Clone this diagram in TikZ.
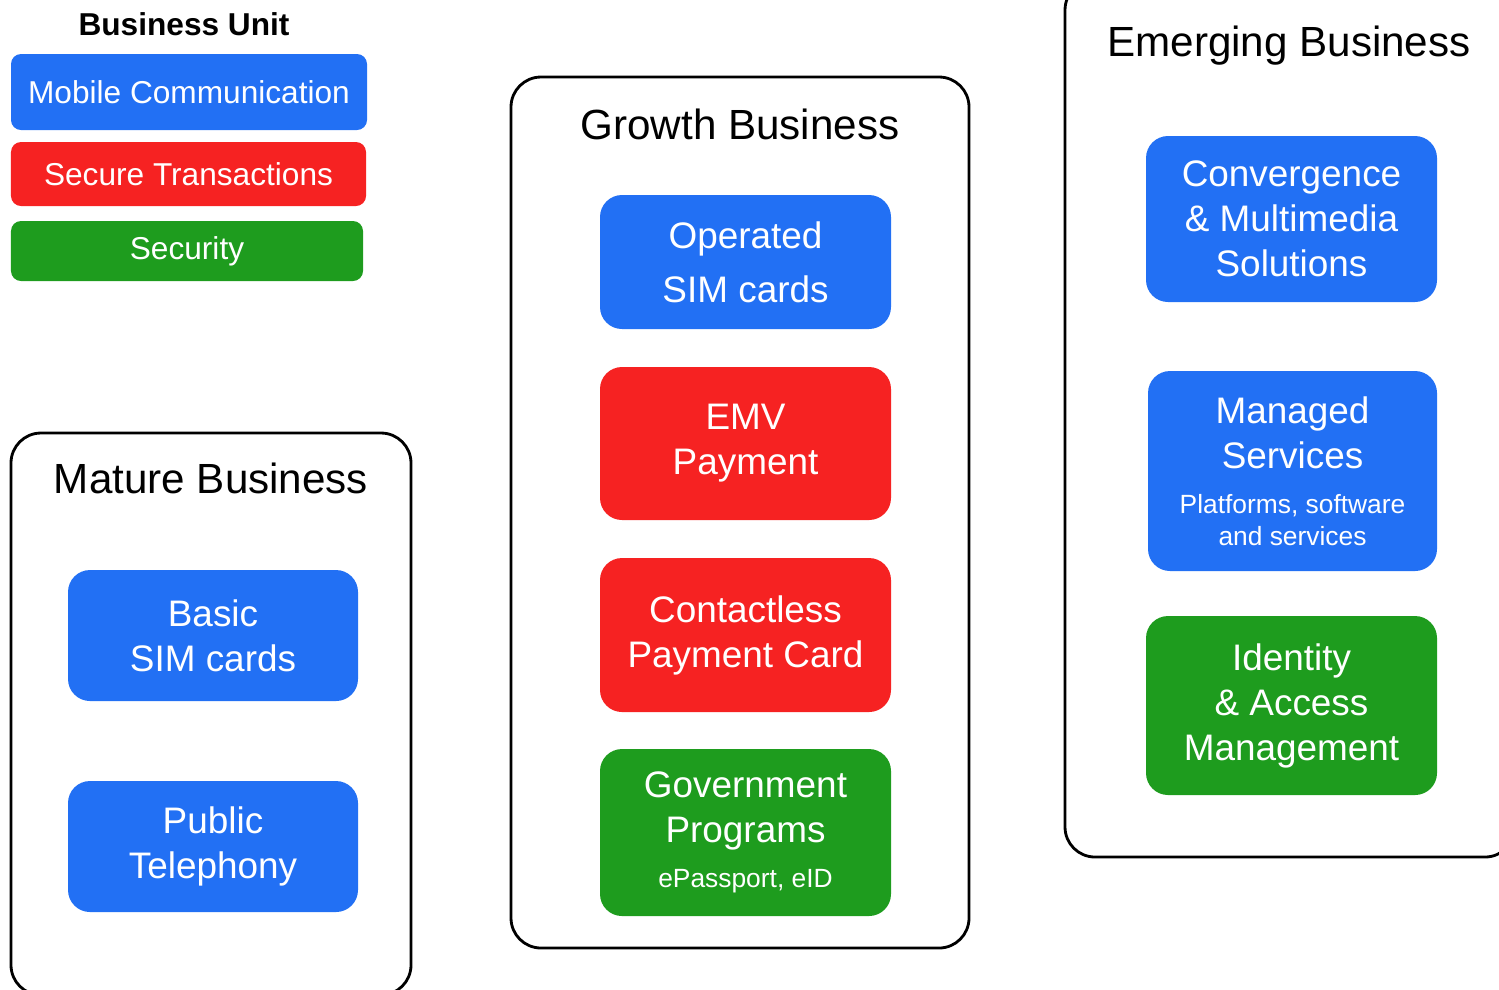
\documentclass[tikz,border=0pt]{standalone}
\usepackage{fontspec}
\setmainfont{Liberation Sans}

\definecolor{unitblue}{RGB}{34,112,244}
\definecolor{unitred}{RGB}{246,34,34}
\definecolor{unitgreen}{RGB}{30,156,30}

\newcommand{\boxfont}{\fontsize{10.5}{12.8}\selectfont}
\newcommand{\notefont}{\fontsize{7.5}{9.1}\selectfont}
\newcommand{\titlefont}{\fontsize{12}{14}\selectfont}

\tikzset{
  unit/.style={rounded corners=0.22cm, minimum width=2.91cm, inner sep=0pt,
    text=white, align=center, font=\boxfont},
  legend/.style={rounded corners=0.1cm, inner sep=0pt, text=white,
    font=\fontsize{9}{11}\selectfont},
  bizframe/.style={line width=0.8pt, rounded corners=0.3cm},
  biztitle/.style={anchor=base, font=\titlefont}
}

\begin{document}
\begin{tikzpicture}
    \useasboundingbox (0,0) rectangle (14.99,-9.89);
    \clip (0,0) rectangle (14.99,-9.89);

    % legend
    \node[anchor=base,font=\fontsize{9}{11}\selectfont\bfseries](unitlabel)at(1.84,-0.35){Business Unit};
    \node[legend,fill=unitblue,minimum width=3.56cm,minimum height=0.76cm](mobile)at(1.89,-0.92){Mobile Communication};
    \node[legend,fill=unitred,minimum width=3.55cm,minimum height=0.64cm](transact)at(1.885,-1.74){Secure Transactions};
    \node[legend,fill=unitgreen,minimum width=3.52cm,minimum height=0.60cm](security)at(1.87,-2.51){Security};

    % frames
    \draw[bizframe](0.11,-4.33)rectangle(4.11,-9.95);
    \draw[bizframe](5.11,-0.77)rectangle(9.69,-9.48);
    \draw[bizframe](10.65,0.2)rectangle(15.15,-8.57);
    \node[biztitle](mature)at(2.11,-4.93){Mature Business};
    \node[biztitle](growth)at(7.40,-1.39){Growth Business};
    \node[biztitle](emerging)at(12.89,-0.56){Emerging Business};

    % mature business
    \node[unit,fill=unitblue,minimum width=2.90cm,minimum height=1.31cm](basic)at(2.13,-6.355){Basic\\SIM cards};
    \node[unit,fill=unitblue,minimum width=2.90cm,minimum height=1.31cm](telephony)at(2.13,-8.465){Public\\Telephony};

    % growth business
    \node[unit,fill=unitblue,minimum height=1.34cm](operated)at(7.455,-2.62){Operated\\[2.6pt]SIM cards};
    \node[unit,fill=unitred,minimum height=1.53cm](emv)at(7.455,-4.435){EMV\\Payment};
    \node[unit,fill=unitred,minimum height=1.54cm](contactless)at(7.455,-6.35){Contactless\\Payment Card};
    \node[unit,fill=unitgreen,minimum height=1.67cm](government)at(7.455,-8.325)
    {Government\\Programs\\[0pt]\notefont ePassport, eID};

    % emerging business
    \node[unit,fill=unitblue,minimum height=1.66cm](convergence)at(12.915,-2.19)
    {Convergence\\\& Multimedia\\Solutions};
    \node[unit,fill=unitblue,minimum width=2.89cm,minimum height=2.00cm](managed)at(12.925,-4.71)
    {Managed\\Services\\[0pt]\notefont Platforms, software\\[-3.7pt]\notefont and services};
    \node[unit,fill=unitgreen,minimum height=1.79cm](identity)at(12.915,-7.055)
    {Identity\\\& Access\\Management};
\end{tikzpicture}
\end{document}
